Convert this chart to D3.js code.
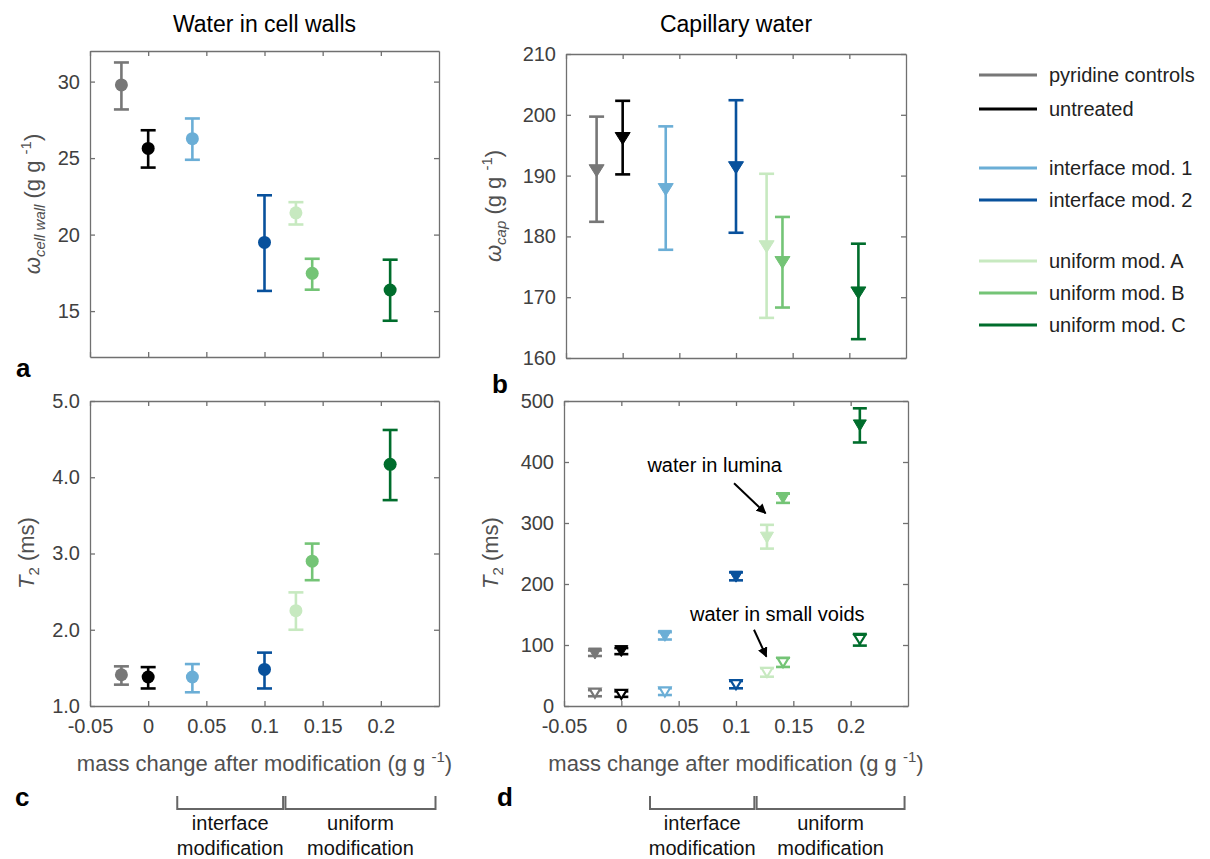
<!DOCTYPE html>
<html>
<head>
<meta charset="UTF-8">
<title>Water in cell walls / Capillary water</title>
<script src="https://d3js.org/d3.v7.min.js"></script>
<style>
    body { margin: 0; background: #fff; }
    svg text { font-family: "Liberation Sans", Arial, sans-serif; }
    .axis path, .axis line { stroke: #707070; stroke-width: 1.3; }
    .axis text { font-size: 20px; fill: #404040; }
</style>
</head>
<body>
<svg width="1210" height="859"></svg>
<script>
// samples, colours and mass change (x)
const samples = ["pyridine controls", "untreated", "interface mod. 1", "interface mod. 2",
                 "uniform mod. A", "uniform mod. B", "uniform mod. C"];
const colors = ["#777777", "#000000", "#6baed6", "#08519c", "#c7e9c0", "#74c476", "#006d2c"];
const massChange = [-0.023, 0, 0.038, 0.100, 0.127, 0.141, 0.208];

// a: water in cell walls (g g-1)
const wCellWall   = [29.78, 25.63, 26.27, 19.49, 21.42, 17.47, 16.38];
const wCellWallLo = [28.18, 24.38, 24.89, 16.32, 20.66, 16.40, 14.37];
const wCellWallHi = [31.25, 26.82, 27.59, 22.57, 22.12, 18.42, 18.36];

// b: capillary water (g g-1)
const wCap   = [190.8, 196.1, 187.7, 191.3, 178.3, 175.7, 170.7];
const wCapLo = [182.4, 190.2, 177.8, 180.6, 166.6, 168.3, 163.1];
const wCapHi = [199.7, 202.3, 198.1, 202.4, 190.3, 183.2, 178.8];

// c: T2 cell wall water (ms)
const t2Wall   = [1.41, 1.38, 1.38, 1.48, 2.25, 2.90, 4.17];
const t2WallLo = [1.28, 1.23, 1.18, 1.23, 2.00, 2.65, 3.70];
const t2WallHi = [1.52, 1.51, 1.55, 1.70, 2.49, 3.13, 4.62];

// d: T2 capillary water (ms), lumina and small voids
const t2Lumina   = [86, 90, 115, 212, 276, 341, 460];
const t2LuminaLo = [82, 85, 109, 206, 258, 333, 432];
const t2LuminaHi = [91, 95, 121, 219, 297, 348, 488];
const t2Voids    = [21, 19, 23, 35, 55, 71, 109];
const t2VoidsLo  = [16, 15, 18, 29, 48, 64, 99];
const t2VoidsHi  = [26, 24, 29, 41, 62, 79, 118];

// axes ticks
const xDomain = [-0.05, 0.25];
const xTicks = [-0.05, 0, 0.05, 0.1, 0.15, 0.2];
const ticksA = [15, 20, 25, 30];
const ticksB = [160, 170, 180, 190, 200, 210];
const ticksC = [1, 2, 3, 4, 5];
const ticksD = [0, 100, 200, 300, 400, 500];

// brackets under the bottom panels
const groups = [
    { name: ["interface", "modification"], range: [0.025, 0.116] },
    { name: ["uniform", "modification"], range: [0.118, 0.247] }
];

const svg = d3.select("svg");

function panel(o) {
    const x = d3.scaleLinear().domain(xDomain).range([o.l, o.r]);
    const y = d3.scaleLinear().domain(o.yDomain).range([o.b, o.t]);
    const fx = d => String(d);

    svg.append("g").attr("class", "axis")
        .attr("transform", `translate(${o.l},0)`)
        .call(d3.axisLeft(y).tickValues(o.yTicks).tickFormat(o.yFormat)
            .tickSize(-5).tickSizeOuter(0).tickPadding(10));
    svg.append("g").attr("class", "axis")
        .attr("transform", `translate(${o.r},0)`)
        .call(d3.axisRight(y).tickValues(o.yTicks).tickFormat("")
            .tickSize(-5).tickSizeOuter(0));
    svg.append("g").attr("class", "axis")
        .attr("transform", `translate(0,${o.b})`)
        .call(d3.axisBottom(x).tickValues(xTicks).tickFormat(o.xLabels ? fx : "")
            .tickSize(-5).tickSizeOuter(0).tickPadding(13));
    svg.append("g").attr("class", "axis")
        .attr("transform", `translate(0,${o.t})`)
        .call(d3.axisTop(x).tickValues(xTicks).tickFormat("")
            .tickSize(-5).tickSizeOuter(0));
    return { x, y };
}

function rows(v, lo, hi) {
    return v.map((d, i) => ({ x: massChange[i], v: d, lo: lo[i], hi: hi[i], c: colors[i] }));
}

function errorBars(s, data, cap, lw) {
    const g = svg.append("g");
    data.forEach(d => {
        const cx = s.x(d.x);
        g.append("line").attr("x1", cx).attr("x2", cx)
            .attr("y1", s.y(d.lo)).attr("y2", s.y(d.hi))
            .attr("stroke", d.c).attr("stroke-width", lw);
        [d.lo, d.hi].forEach(e => {
            g.append("line").attr("x1", cx - cap).attr("x2", cx + cap)
                .attr("y1", s.y(e)).attr("y2", s.y(e))
                .attr("stroke", d.c).attr("stroke-width", lw);
        });
    });
}

function circles(s, data) {
    svg.append("g").selectAll("circle").data(data).join("circle")
        .attr("cx", d => s.x(d.x)).attr("cy", d => s.y(d.v))
        .attr("r", 6.5).attr("fill", d => d.c);
}

function triangles(s, data, w, h, open) {
    const tri = `M${-w / 2},${-h / 2}L${w / 2},${-h / 2}L0,${h / 2}Z`;
    svg.append("g").selectAll("path").data(data).join("path")
        .attr("d", tri)
        .attr("transform", d => `translate(${s.x(d.x)},${s.y(d.v)})`)
        .attr("fill", d => open ? "#fff" : d.c)
        .attr("stroke", d => d.c)
        .attr("stroke-width", open ? 2.2 : 1);
}

function yLabel(x, yMid, parts) {
    const t = svg.append("text")
        .attr("transform", `translate(${x},${yMid}) rotate(-90)`)
        .attr("text-anchor", "middle").attr("fill", "#505050").style("font-size", "22px");
    parts.forEach(p => {
        const ts = t.append("tspan").text(p.t);
        if (p.i) ts.style("font-style", "italic");
        if (p.s) ts.style("font-size", "15px");
        if (p.dy) ts.attr("dy", p.dy);
    });
}

function xLabel(s, yBase) {
    const [a, b] = s.x.range();
    const t = svg.append("text").attr("x", (a + b) / 2).attr("y", yBase)
        .attr("text-anchor", "middle").attr("fill", "#505050").style("font-size", "22px");
    t.append("tspan").text("mass change after modification (g g ");
    t.append("tspan").text("-1").style("font-size", "15px").attr("dy", -9);
    t.append("tspan").text(")").attr("dy", 9);
}

// ---- panel a
const A = panel({ l: 90, r: 439, t: 51, b: 357, yDomain: [12, 32], yTicks: ticksA,
                  yFormat: d => d, xLabels: false });
const dataA = rows(wCellWall, wCellWallLo, wCellWallHi);
errorBars(A, dataA, 7.5, 2.6);
circles(A, dataA);

// ---- panel b
const B = panel({ l: 566, r: 906, t: 54, b: 358, yDomain: [160, 210], yTicks: ticksB,
                  yFormat: d => d, xLabels: false });
const dataB = rows(wCap, wCapLo, wCapHi);
errorBars(B, dataB, 7.5, 2.6);
triangles(B, dataB, 15, 12, false);

// ---- panel c
const C = panel({ l: 90, r: 439, t: 401, b: 706, yDomain: [1, 5], yTicks: ticksC,
                  yFormat: d3.format(".1f"), xLabels: true });
const dataC = rows(t2Wall, t2WallLo, t2WallHi);
errorBars(C, dataC, 7.5, 2.6);
circles(C, dataC);

// ---- panel d
const D = panel({ l: 564, r: 908, t: 401, b: 706, yDomain: [0, 500], yTicks: ticksD,
                  yFormat: d => d, xLabels: true });
const dataL = rows(t2Lumina, t2LuminaLo, t2LuminaHi);
const dataV = rows(t2Voids, t2VoidsLo, t2VoidsHi);
errorBars(D, dataL, 7, 2.6);
errorBars(D, dataV, 7, 2.6);
triangles(D, dataL, 13, 11, false);
triangles(D, dataV, 11, 9, true);

// annotation arrows
svg.append("defs").append("marker")
    .attr("id", "arr").attr("viewBox", "0 0 10 10").attr("refX", 9).attr("refY", 5)
    .attr("markerWidth", 5).attr("markerHeight", 5).attr("orient", "auto")
    .append("path").attr("d", "M0,0L10,5L0,10Z").attr("fill", "#000");

const notes = [
    { text: "water in lumina", tx: 0.0814, ty: 384, from: [0.0983, 365], to: [0.1258, 316] },
    { text: "water in small voids", tx: 0.136, ty: 139, from: [0.1157, 125], to: [0.1265, 81] }
];
notes.forEach(n => {
    svg.append("text").attr("x", D.x(n.tx)).attr("y", D.y(n.ty))
        .attr("text-anchor", "middle").style("font-size", "20px").attr("fill", "#000")
        .text(n.text);
    svg.append("line")
        .attr("x1", D.x(n.from[0])).attr("y1", D.y(n.from[1]))
        .attr("x2", D.x(n.to[0])).attr("y2", D.y(n.to[1]))
        .attr("stroke", "#000").attr("stroke-width", 2).attr("marker-end", "url(#arr)");
});

// axis labels
yLabel(40, 204, [{ t: "ω", i: true }, { t: "cell wall", i: true, s: true, dy: 5 },
                 { t: " (g g ", dy: -5 }, { t: "-1", s: true, dy: -9 }, { t: ")", dy: 9 }]);
yLabel(501, 206, [{ t: "ω", i: true }, { t: "cap", i: true, s: true, dy: 5 },
                  { t: " (g g ", dy: -5 }, { t: "-1", s: true, dy: -9 }, { t: ")", dy: 9 }]);
yLabel(34, 553, [{ t: "T", i: true }, { t: "2", s: true, dy: 5 }, { t: " (ms)", dy: -5 }]);
yLabel(498, 553, [{ t: "T", i: true }, { t: "2", s: true, dy: 5 }, { t: " (ms)", dy: -5 }]);
xLabel(C, 771);
xLabel(D, 771);

// titles
svg.append("text").attr("x", (A.x.range()[0] + A.x.range()[1]) / 2).attr("y", 32)
    .attr("text-anchor", "middle").style("font-size", "23px").text("Water in cell walls");
svg.append("text").attr("x", (B.x.range()[0] + B.x.range()[1]) / 2).attr("y", 32)
    .attr("text-anchor", "middle").style("font-size", "23px").text("Capillary water");

// panel letters
[["a", 16, 377], ["b", 492, 393], ["c", 15, 806], ["d", 497, 806]].forEach(([t, x, y]) => {
    svg.append("text").attr("x", x).attr("y", y).style("font-size", "26px")
        .style("font-weight", "bold").text(t);
});

// brackets below c and d
[C, D].forEach(s => {
    groups.forEach(g => {
        const x0 = s.x(g.range[0]), x1 = s.x(g.range[1]);
        svg.append("path")
            .attr("d", `M${x0},796V809H${x1}V796`)
            .attr("fill", "none").attr("stroke", "#666").attr("stroke-width", 2);
        g.name.forEach((line, k) => {
            svg.append("text").attr("x", (x0 + x1) / 2).attr("y", 830 + k * 25)
                .attr("text-anchor", "middle").style("font-size", "20px").attr("fill", "#111")
                .text(line);
        });
    });
});

// legend
const legendY = [75, 109, 168, 200, 261, 293, 325];
const leg = svg.append("g");
samples.forEach((name, i) => {
    leg.append("line").attr("x1", 979).attr("x2", 1037)
        .attr("y1", legendY[i]).attr("y2", legendY[i])
        .attr("stroke", colors[i]).attr("stroke-width", 3);
    leg.append("text").attr("x", 1049).attr("y", legendY[i]).attr("dy", "0.35em")
        .style("font-size", "20px").attr("fill", "#222").text(name);
});
</script>
</body>
</html>
